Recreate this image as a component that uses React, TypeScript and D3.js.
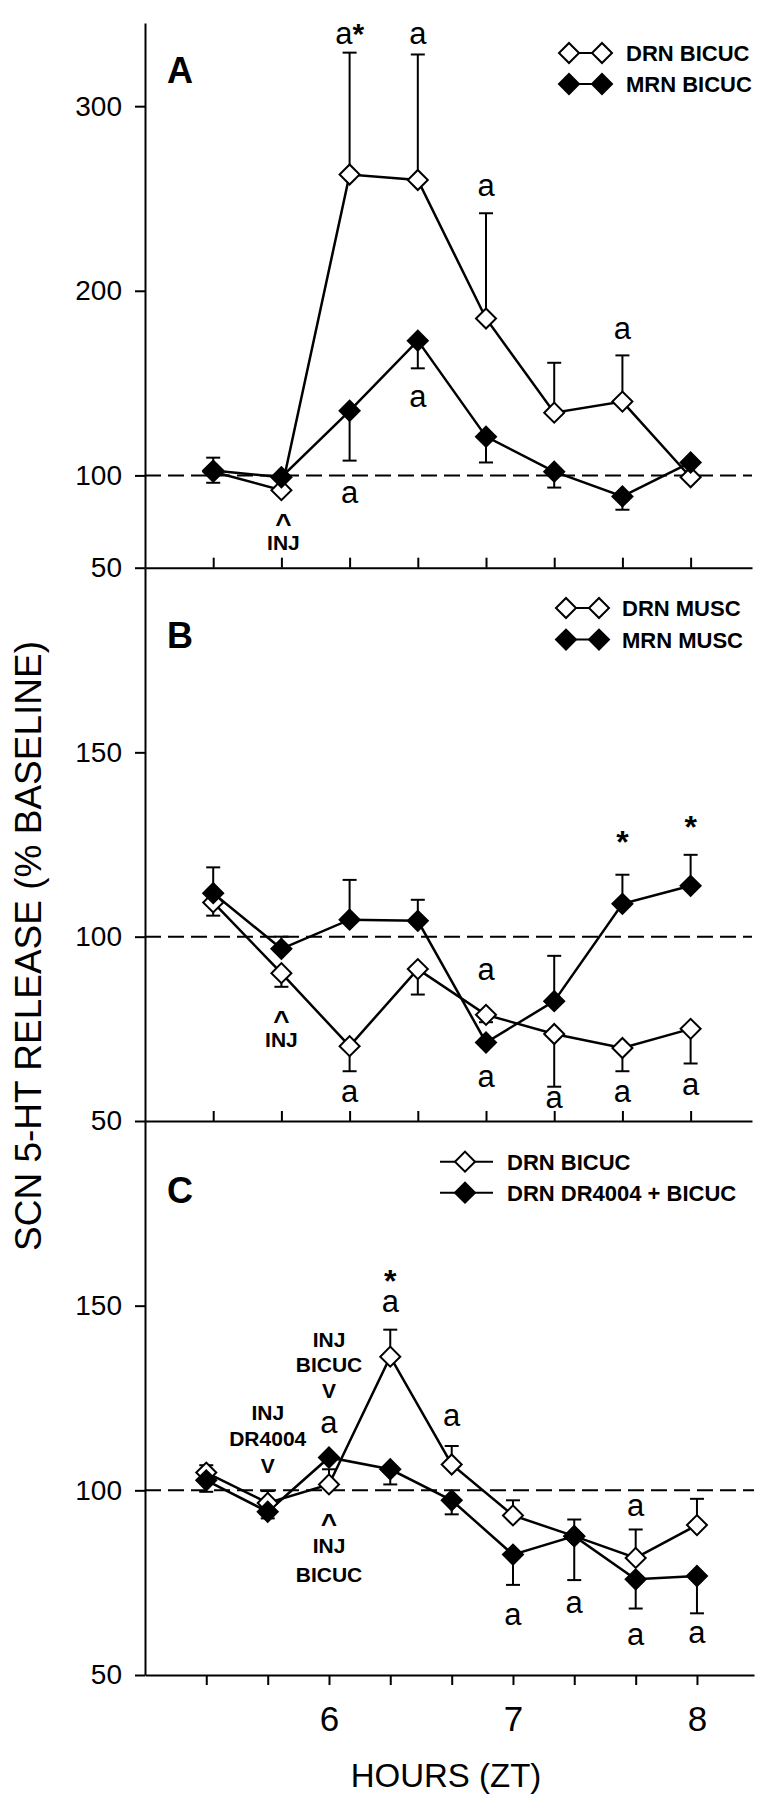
import React, { useEffect, useRef } from 'react';
import * as d3 from 'd3';

const FONT = '"Liberation Sans", Arial, Helvetica, sans-serif';

// sample number within the session (panels A and B)
const samplesAB = [1, 2, 3, 4, 5, 6, 7, 8];
// sample times in ZT hours (panel C)
const hoursC = [5.333, 5.667, 6, 6.333, 6.667, 7, 7.333, 7.667, 8];
const hourLabels = [6, 7, 8];

// ---- panel A: bicuculline into DRN / MRN
const drnBicucA = [102, 92, 263, 260, 185, 134, 140, 99];
const drnBicucAUp = [0, 0, 66, 68, 57, 27, 25, 0];
const mrnBicucA = [102.6, 99, 135, 173, 121, 102, 88.6, 107];
const mrnBicucAUp = [7, 0, 0, 0, 0, 0, 0, 0];
const mrnBicucADown = [6.6, 0, 27, 15, 14, 8.6, 7.2, 0];

// ---- panel B: muscimol into DRN / MRN
const drnMuscB = [109.3, 90.1, 70.3, 91.2, 78.8, 73.6, 69.8, 75];
const drnMuscBDown = [3.6, 3.7, 6.8, 6.9, 2, 14.3, 6.3, 9.4];
const mrnMuscB = [111.8, 96.7, 104.6, 104.3, 71.3, 82.5, 108.9, 113.8];
const mrnMuscBUp = [7, 3.3, 10.8, 5.7, 0, 12.3, 7.9, 8.4];

// ---- panel C: DRN bicuculline with / without DR4004
const drnBicucC = [104.8, 96.6, 101.6, 136.2, 107, 93.2, 87.6, 81.7, 90.6];
const drnBicucCUp = [2, 3.2, 4.1, 7.3, 5, 4.1, 4.5, 7.7, 7.1];
const dr4004C = [102.7, 94.2, 108.9, 105.7, 97.3, 82.6, 87.6, 75.9, 76.8];
const dr4004CDown = [3.1, 1.8, 0, 4.1, 3.8, 8.2, 11.9, 7.9, 10.1];

// annotations in data coordinates: x = sample / hour, each line's y = % baseline
const notesA = [
  { x: 3, lines: [['a', 333.5, 'a'], ['*', 333.5, 'starIn']] },
  { x: 4, lines: [['a', 333.5, 'a']] },
  { x: 5, lines: [['a', 251.4, 'a']] },
  { x: 7, lines: [['a', 173.9, 'a']] },
  { x: 4, lines: [['a', 137, 'a']] },
  { x: 3, lines: [['a', 85, 'a']] },
  { x: 2.03, lines: [['^', 68.6, 'caret'], ['INJ', 59.6, 'inj']] },
];
const notesB = [
  { x: 7, lines: [['*', 122.6, 'star']] },
  { x: 8, lines: [['*', 126.7, 'star']] },
  { x: 5, lines: [['a', 88.3, 'a']] },
  { x: 2, lines: [['^', 74.8, 'caret'], ['INJ', 70.2, 'inj']] },
  { x: 3, lines: [['a', 55.2, 'a']] },
  { x: 5, lines: [['a', 59.2, 'a']] },
  { x: 6, lines: [['a', 53.4, 'a']] },
  { x: 7, lines: [['a', 55.2, 'a']] },
  { x: 8, lines: [['a', 57, 'a']] },
];
const notesC = [
  { x: 6.333, lines: [['*', 153.8, 'star'], ['a', 148.3, 'a']] },
  { x: 6, lines: [['INJ', 138.9, 'inj'], ['BICUC', 132.1, 'inj'], ['V', 125, 'inj']] },
  { x: 6, lines: [['a', 115.5, 'a']] },
  { x: 5.667, lines: [['INJ', 119, 'inj'], ['DR4004', 111.9, 'inj'], ['V', 104.7, 'inj']] },
  { x: 6.667, lines: [['a', 117.3, 'a']] },
  { x: 6, lines: [['^', 88.4, 'caret'], ['INJ', 83, 'inj'], ['BICUC', 75.3, 'inj']] },
  { x: 7.667, lines: [['a', 93, 'a']] },
  { x: 7, lines: [['a', 63.5, 'a']] },
  { x: 7.333, lines: [['a', 66.8, 'a']] },
  { x: 7.667, lines: [['a', 58.1, 'a']] },
  { x: 8, lines: [['a', 58.6, 'a']] },
];

const noteStyle: any = {
  a: { size: 31, weight: 'normal' },
  star: { size: 32, weight: 'bold' },
  starIn: { size: 30, weight: 'bold' },
  inj: { size: 21, weight: 'bold' },
  caret: { size: 28, weight: 'bold' },
};

const xAB = d3.scaleLinear().domain([0, 8.9]).range([145, 752]);
const xC = d3.scaleLinear().domain([5, 8.31]).range([145, 754]);

const panels = [
  {
    letter: 'A', letterY: 83,
    x: xAB, xs: samplesAB, tickIn: true,
    y: d3.scaleLinear().domain([50, 345]).range([567.7, 23.1]),
    yTicks: [50, 100, 200, 300],
    series: [
      { name: 'DRN BICUC', values: drnBicucA, up: drnBicucAUp, down: null, filled: false },
      { name: 'MRN BICUC', values: mrnBicucA, up: mrnBicucAUp, down: mrnBicucADown, filled: true },
    ],
    notes: notesA,
    legend: { type: 'pair', x: 569, y: 53, dy: 31, textX: 626 },
  },
  {
    letter: 'B', letterY: 648,
    x: xAB, xs: samplesAB, tickIn: true,
    y: d3.scaleLinear().domain([50, 200]).range([1121, 568]),
    yTicks: [50, 100, 150],
    series: [
      { name: 'DRN MUSC', values: drnMuscB, up: null, down: drnMuscBDown, filled: false },
      { name: 'MRN MUSC', values: mrnMuscB, up: mrnMuscBUp, down: null, filled: true },
    ],
    notes: notesB,
    legend: { type: 'pair', x: 566, y: 608, dy: 31.6, textX: 622 },
  },
  {
    letter: 'C', letterY: 1203,
    x: xC, xs: hoursC, tickIn: false,
    y: d3.scaleLinear().domain([50, 200]).range([1675, 1121]),
    yTicks: [50, 100, 150],
    series: [
      { name: 'DRN BICUC', values: drnBicucC, up: drnBicucCUp, down: null, filled: false },
      { name: 'DRN DR4004 + BICUC', values: dr4004C, up: null, down: dr4004CDown, filled: true },
    ],
    notes: notesC,
    legend: { type: 'line', x: 440, y: 1161.7, dy: 31, textX: 507 },
  },
];

const diamond = d3.symbol(d3.symbolSquare, 200);

function drawPanel(svg: any, p: any) {
  const g = svg.append('g');
  const [x0, x1] = p.x.range();
  const yBase = p.y.range()[0];

  // baseline at 100 %
  g.append('line')
    .attr('x1', x0).attr('x2', x1)
    .attr('y1', p.y(100)).attr('y2', p.y(100))
    .attr('stroke', '#000').attr('stroke-width', 2)
    .attr('stroke-dasharray', '16 7');

  const ya = g.append('g')
    .attr('transform', `translate(${x0},0)`)
    .call(d3.axisLeft(p.y).tickValues(p.yTicks).tickSize(10).tickSizeOuter(0).tickPadding(13).tickFormat(d3.format('d')));
  ya.attr('font-size', 28).attr('font-family', FONT);
  ya.selectAll('path, line').attr('stroke-width', 2);

  const xa = g.append('g')
    .attr('transform', `translate(0,${yBase})`)
    .call(d3.axisBottom(p.x).tickValues(p.xs).tickSize(p.tickIn ? -10 : 10).tickSizeOuter(0).tickPadding(21)
      .tickFormat((d: any) => (p.tickIn ? '' : hourLabels.includes(d) ? String(d) : '')));
  xa.attr('font-size', 35).attr('font-family', FONT);
  xa.selectAll('path, line').attr('stroke-width', 2);

  // error bars
  p.series.forEach((s: any) => {
    s.values.forEach((v: number, i: number) => {
      [[s.up, 1], [s.down, -1]].forEach(([arr, dir]: any) => {
        if (!arr || !arr[i]) return;
        const cx = p.x(p.xs[i]);
        const yEnd = p.y(v + dir * arr[i]);
        g.append('line').attr('x1', cx).attr('x2', cx).attr('y1', p.y(v)).attr('y2', yEnd)
          .attr('stroke', '#000').attr('stroke-width', 2);
        g.append('line').attr('x1', cx - 7).attr('x2', cx + 7).attr('y1', yEnd).attr('y2', yEnd)
          .attr('stroke', '#000').attr('stroke-width', 2);
      });
    });
  });

  // connecting lines
  p.series.forEach((s: any) => {
    const line = d3.line<number>().x((d, i) => p.x(p.xs[i])).y((d) => p.y(d));
    g.append('path').datum(s.values).attr('d', line)
      .attr('fill', 'none').attr('stroke', '#000').attr('stroke-width', 2.5);
  });

  // markers (open first, filled on top)
  p.series.forEach((s: any) => {
    g.append('g').selectAll('path').data(s.values).join('path')
      .attr('d', diamond)
      .attr('transform', (d: number, i: number) => `translate(${p.x(p.xs[i])},${p.y(d)}) rotate(45)`)
      .attr('fill', s.filled ? '#000' : '#fff')
      .attr('stroke', '#000').attr('stroke-width', 2);
  });

  // significance marks and injection notes
  p.notes.forEach((n: any) => {
    const inline = n.lines.length === 2 && n.lines[1][2] === 'starIn';
    const txt = g.append('text')
      .attr('text-anchor', 'middle')
      .attr('font-family', FONT);
    n.lines.forEach(([t, yv, k]: any, i: number) => {
      const st = noteStyle[k];
      const ts = txt.append('tspan')
        .attr('font-size', st.size).attr('font-weight', st.weight)
        .text(t);
      if (!inline || i === 0) ts.attr('x', p.x(n.x)).attr('y', p.y(yv));
    });
  });

  // panel letter
  g.append('text').attr('x', 167).attr('y', p.letterY)
    .attr('font-family', FONT).attr('font-size', 36).attr('font-weight', 'bold')
    .text(p.letter);

  // legend
  const lg = p.legend;
  p.series.forEach((s: any, i: number) => {
    const cy = lg.y + i * lg.dy;
    const row = g.append('g');
    if (lg.type === 'pair') {
      row.append('line').attr('x1', lg.x).attr('x2', lg.x + 33).attr('y1', cy).attr('y2', cy)
        .attr('stroke', '#000').attr('stroke-width', 2);
      [lg.x, lg.x + 33].forEach((mx: number) => {
        row.append('path').attr('d', diamond)
          .attr('transform', `translate(${mx},${cy}) rotate(45)`)
          .attr('fill', s.filled ? '#000' : '#fff').attr('stroke', '#000').attr('stroke-width', 2);
      });
    } else {
      row.append('line').attr('x1', lg.x).attr('x2', lg.x + 53).attr('y1', cy).attr('y2', cy)
        .attr('stroke', '#000').attr('stroke-width', 2);
      row.append('path').attr('d', diamond)
        .attr('transform', `translate(${lg.x + 25},${cy}) rotate(45)`)
        .attr('fill', s.filled ? '#000' : '#fff').attr('stroke', '#000').attr('stroke-width', 2);
    }
    row.append('text').attr('x', lg.textX).attr('y', cy + 8)
      .attr('font-family', FONT).attr('font-size', 22).attr('font-weight', 'bold')
      .text(s.name);
  });
}

export default function App() {
  const ref = useRef<SVGSVGElement>(null);

  useEffect(() => {
    const svg = d3.select(ref.current);
    svg.selectAll('*').remove();
    svg.append('rect').attr('width', 762).attr('height', 1800).attr('fill', '#fff');

    panels.forEach((p) => drawPanel(svg, p));

    svg.append('text')
      .attr('transform', 'translate(41,946) rotate(-90)')
      .attr('text-anchor', 'middle')
      .attr('font-family', FONT).attr('font-size', 37)
      .text('SCN 5-HT RELEASE (% BASELINE)');

    svg.append('text')
      .attr('x', 446).attr('y', 1787)
      .attr('text-anchor', 'middle')
      .attr('font-family', FONT).attr('font-size', 33)
      .text('HOURS (ZT)');
  }, []);

  return (
    <svg
      ref={ref}
      width={762}
      height={1800}
      style={{ position: 'absolute', left: 0, top: 0 }}
    />
  );
}
